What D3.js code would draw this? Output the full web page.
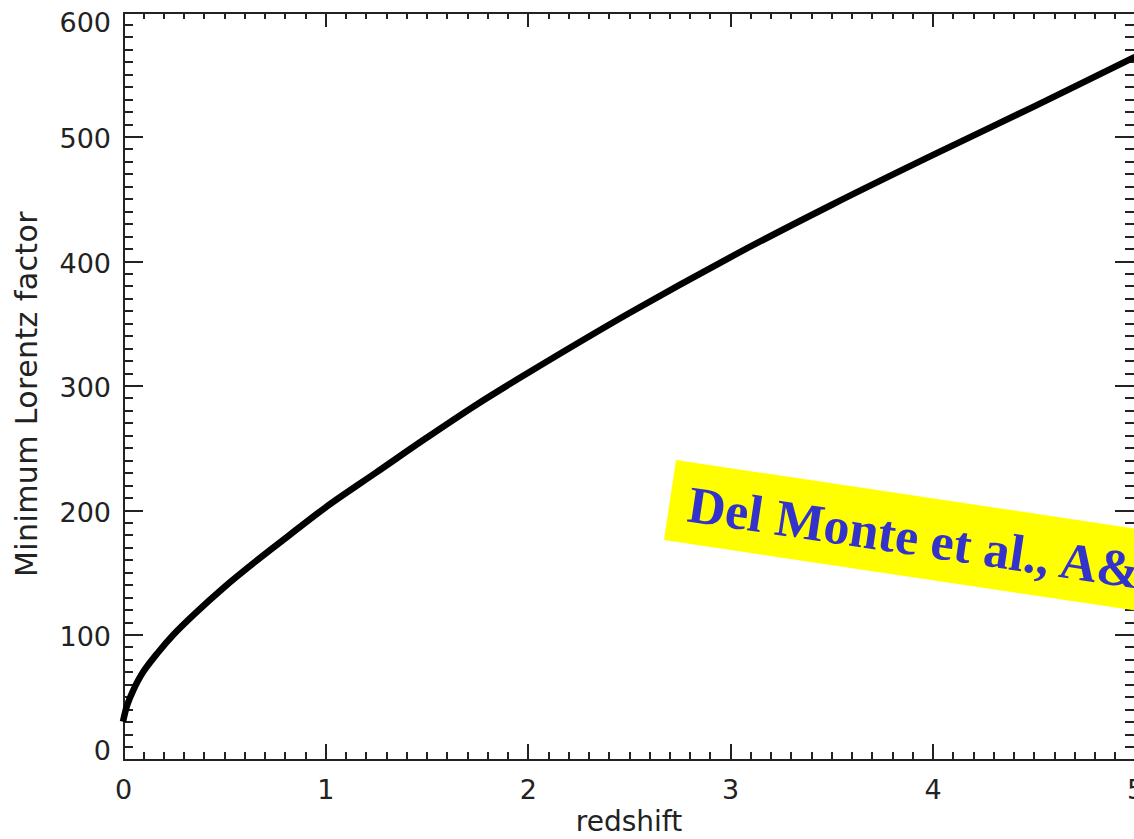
<!DOCTYPE html>
<html>
<head>
<meta charset="utf-8">
<script src="https://cdn.jsdelivr.net/npm/d3@7"></script>
<style>
  body { margin: 0; background: #fff; }
  svg { display: block; }
  .axis path, .axis line { stroke: #222; stroke-width: 2; shape-rendering: crispEdges; }
  .axis text { font-family: "DejaVu Sans", sans-serif; font-size: 27px; fill: #222; }
</style>
</head>
<body>
<div id="chart"></div>
<script>
// curve
var redshift = [0, 0.02, 0.05, 0.1, 0.17, 0.25, 0.35, 0.5, 0.65, 0.8, 1.0, 1.25, 1.5, 1.75, 2.0, 2.5, 3.0, 3.5, 4.0, 4.5, 5.0];
var gammaMin = [30, 43, 55, 70, 85, 100, 116, 138, 158, 177, 202, 230, 258, 285, 310, 358, 403, 445, 485, 524, 564];
var xTickValues = [0, 1, 2, 3, 4, 5];
var yTickValues = [0, 100, 200, 300, 400, 500, 600];
var xLabel = "redshift";
var yLabel = "Minimum Lorentz factor";
var noteText = "Del Monte et al., A&A";

var W = 1134, H = 839;
var margin = {top: 12, left: 123},
    width = 1012,
    height = 747;

var svg = d3.select("#chart").append("svg")
  .attr("width", W)
  .attr("height", H);

var g = svg.append("g")
  .attr("transform", "translate(" + margin.left + "," + margin.top + ")");

var x = d3.scaleLinear().domain([0, 5]).range([0, width]);
var y = d3.scaleLinear().domain([0, 600]).range([height, 0]);

// IDL style tick lengths: 2% of the other dimension, minor half of it
var xMajor = 0.02 * height, yMajor = 0.02 * width;

function minorX(a) { a.tickValues(x.ticks(50)).tickFormat("").tickSizeInner(-xMajor / 2).tickSizeOuter(0); return a; }
function minorY(a) { a.tickValues(y.ticks(60)).tickFormat("").tickSizeInner(-yMajor / 2).tickSizeOuter(0); return a; }

// bottom
g.append("g").attr("class", "axis").attr("transform", "translate(0," + height + ")")
  .call(minorX(d3.axisBottom(x)));
var xAx = g.append("g").attr("class", "axis").attr("transform", "translate(0," + height + ")")
  .call(d3.axisBottom(x).tickValues(xTickValues).tickFormat(d3.format("d")).tickSizeInner(-xMajor).tickSizeOuter(0));
xAx.selectAll("text").attr("dy", "0.71em").attr("y", 21);

// top
g.append("g").attr("class", "axis").call(minorX(d3.axisTop(x)));
g.append("g").attr("class", "axis")
  .call(d3.axisTop(x).tickValues(xTickValues).tickFormat("").tickSizeInner(-xMajor).tickSizeOuter(0));

// left
g.append("g").attr("class", "axis").call(minorY(d3.axisLeft(y)));
var yAx = g.append("g").attr("class", "axis")
  .call(d3.axisLeft(y).tickValues(yTickValues).tickFormat(d3.format("d")).tickSizeInner(-yMajor).tickSizeOuter(0));
yAx.selectAll("text")
  .attr("x", -12)
  .attr("dy", "0.36em")
  .attr("y", function(d) {
    var p = y(d) + 1.5;
    return Math.min(Math.max(p, 10), height - 9) - y(d);
  });

// right
g.append("g").attr("class", "axis").attr("transform", "translate(" + width + ",0)")
  .call(minorY(d3.axisRight(y)));
g.append("g").attr("class", "axis").attr("transform", "translate(" + width + ",0)")
  .call(d3.axisRight(y).tickValues(yTickValues).tickFormat("").tickSizeInner(-yMajor).tickSizeOuter(0));

// axis titles
svg.append("text")
  .attr("x", margin.left + width / 2)
  .attr("y", 831)
  .attr("text-anchor", "middle")
  .style("font-family", "DejaVu Sans, sans-serif")
  .style("font-size", "28px")
  .style("fill", "#222")
  .text(xLabel);

svg.append("text")
  .attr("transform", "translate(37,394) rotate(-90)")
  .attr("text-anchor", "middle")
  .style("font-family", "DejaVu Sans, sans-serif")
  .style("font-size", "30px")
  .style("letter-spacing", "0.4px")
  .style("fill", "#222")
  .text(yLabel);

// the curve
var line = d3.line()
  .x(function(d, i) { return x(redshift[i]); })
  .y(function(d) { return y(d); })
  .curve(d3.curveCatmullRom);

g.append("path")
  .datum(gammaMin)
  .attr("d", line)
  .attr("fill", "none")
  .attr("stroke", "#000")
  .attr("stroke-width", 6.5)
  .attr("stroke-linejoin", "round");

// yellow reference note
var note = svg.append("g")
  .attr("transform", "translate(676,460) rotate(8.5)");
note.append("rect")
  .attr("x", 0).attr("y", 0)
  .attr("width", 720).attr("height", 81)
  .attr("fill", "#ffff00");
note.append("text")
  .attr("x", 19).attr("y", 59)
  .style("font-family", "Liberation Serif, Times New Roman, serif")
  .style("font-weight", "bold")
  .style("font-size", "52px")
  .style("fill", "#3333cc")
  .text(noteText);
</script>
</body>
</html>
